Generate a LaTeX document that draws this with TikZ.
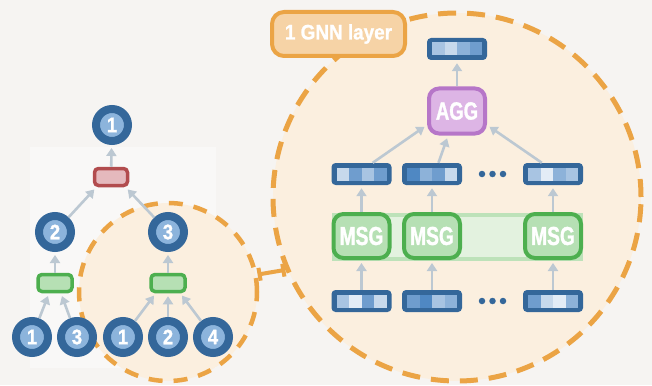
\documentclass[tikz,border=0pt]{standalone}
\usepackage{fontspec}
\usetikzlibrary{arrows.meta}
\newfontfamily\condf[FakeStretch=0.74, BoldFeatures={FakeBold=1.2}]{Liberation Sans}
\newfontfamily\numf[FakeStretch=0.88, BoldFeatures={FakeBold=1.2}]{Liberation Sans}
\newfontfamily\gnnf[FakeStretch=0.9, BoldFeatures={FakeBold=1}]{Liberation Sans}
\definecolor{bg}{HTML}{F6F4F2}
\definecolor{paneback}{HTML}{F9F8F7}
\definecolor{orng}{HTML}{EBA445}
\definecolor{orngfill}{HTML}{FBEFDF}
\definecolor{gnnfill}{HTML}{F6D3A6}
\definecolor{dblue}{HTML}{34679A}
\definecolor{lblue}{HTML}{8CB4DC}
\definecolor{redb}{HTML}{B24C4E}
\definecolor{redf}{HTML}{E5B9BD}
\definecolor{grnb}{HTML}{4DAF4F}
\definecolor{grnf}{HTML}{B6E0B4}
\definecolor{bandf}{HTML}{E3F2DF}
\definecolor{bandb}{HTML}{BDE2B9}
\definecolor{purb}{HTML}{B676C8}
\definecolor{purf}{HTML}{DDB5E5}
\definecolor{arrc}{HTML}{BCC8D2}
\definecolor{vza}{HTML}{E3ECF6}
\definecolor{vzb}{HTML}{C7D9EC}
\definecolor{vzc}{HTML}{A8C4E2}
\definecolor{vzd}{HTML}{8DB2D9}
\definecolor{vze}{HTML}{6F9DCE}
\definecolor{vzf}{HTML}{4F88C3}
\newcommand\vecnode[7]{%
  \node[vecn] (#1) at (#2,#3) {};
  \fill[#4] ({#2-25},{#3-6.5}) rectangle +(12.5,13);
  \fill[#5] ({#2-12.5},{#3-6.5}) rectangle +(12.5,13);
  \fill[#6] ({#2},{#3-6.5}) rectangle +(12.5,13);
  \fill[#7] ({#2+12.5},{#3-6.5}) rectangle +(12.5,13);
}
\begin{document}
\begin{tikzpicture}[x=1pt,y=-1pt,
  numnode/.style={circle, draw=dblue, fill=lblue, line width=8pt, minimum size=32pt, inner sep=0pt,
     text=white, font=\numf\bfseries\fontsize{21}{21}\selectfont},
  redbox/.style={draw=redb, fill=redf, line width=3.5pt, rounded corners=4pt, minimum width=33pt, minimum height=17pt, inner sep=0pt},
  grnbox/.style={draw=grnb, fill=grnf, line width=3.5pt, rounded corners=4pt, minimum width=34pt, minimum height=17pt, inner sep=0pt},
  msgbox/.style={draw=grnb, fill=grnf, line width=4pt, rounded corners=10pt, minimum width=56pt, minimum height=44pt, inner sep=0pt,
     text=white, font=\condf\bfseries\fontsize{26}{26}\selectfont},
  aggbox/.style={draw=purb, fill=purf, line width=4pt, rounded corners=10pt, minimum width=56pt, minimum height=45pt, inner sep=0pt,
     text=white, font=\condf\bfseries\fontsize{25}{25}\selectfont},
  vecn/.style={fill=dblue, rounded corners=4pt, minimum width=60pt, minimum height=22pt, inner sep=0pt},
  arr/.style={draw=arrc, line width=2.6pt, -{Triangle[length=8pt,width=10pt]}, shorten >=3pt},
  zoomc/.style={circle, draw=orng, fill=orngfill, dash pattern=on 14pt off 11pt, inner sep=0pt},
  dotn/.style={circle, fill=dblue, minimum size=6.5pt, inner sep=0pt},
]
\useasboundingbox (0,0) rectangle (652,385);
\fill[bg] (0,0) rectangle (652,385);
\fill[paneback] (30,147) rectangle (216,368);

% zoom circles
\node[zoomc, line width=4.5pt, minimum size=178pt] (small) at (168,292) {};
\node[zoomc, line width=5pt, minimum size=368pt, dash pattern=on 18pt off 11pt] (big) at (457,197) {};
\draw[orng, line width=4pt, {Bar[width=13pt,line width=4pt]}-{Bar[width=13pt,line width=4pt]}] (small.11) -- (big.203);

% left tree
\node[numnode] (t1) at (112,125) {1};
\node[redbox] (red) at (111,177) {};
\node[numnode] (t2) at (55,232) {2};
\node[numnode] (t3) at (168,232) {3};
\node[grnbox] (gl) at (55,283) {};
\node[grnbox] (gr) at (168,283) {};
\node[numnode] (b1) at (32,337) {1};
\node[numnode] (b3) at (77,337) {3};
\node[numnode] (c1) at (123,337) {1};
\node[numnode] (c2) at (168,337) {2};
\node[numnode] (c4) at (213,337) {4};

\draw[arr] (red) -- (t1);
\draw[arr] (t2) -- (red.215);
\draw[arr] (t3) -- (red.325);
\draw[arr] (gl) -- (t2);
\draw[arr] (gr) -- (t3);
\draw[arr] (b1) -- (gl.240);
\draw[arr] (b3) -- (gl.300);
\draw[arr] (c1) -- (gr.220);
\draw[arr] (c2) -- (gr);
\draw[arr] (c4) -- (gr.320);

% GNN layer label
\node[draw=orng, fill=gnnfill, line width=4pt, rounded corners=12pt, minimum width=133pt, minimum height=44pt, inner sep=0pt,
  text=white, font=\gnnf\bfseries\fontsize{21}{21}\selectfont] (gnn) at (338.5,34) {1 GNN layer};

% band behind MSG
\draw[bandb, fill=bandf, line width=4pt] (334,214.5) rectangle (581,258.5);

% vectors
\vecnode{top}{457}{49}{vzc}{vzb}{vzd}{vze}
\vecnode{m1}{361.5}{174}{vzb}{vze}{vzc}{vze}
\vecnode{m2}{432}{174}{vzf}{vzd}{vze}{vzb}
\vecnode{m3}{553}{174}{vzc}{vza}{vzd}{vzc}
\vecnode{v1}{361.5}{301}{vzc}{vza}{vze}{vzb}
\vecnode{v2}{432}{301}{vze}{vzf}{vzc}{vzd}
\vecnode{v3}{553}{301}{vze}{vzb}{vza}{vzd}

\node[aggbox] (agg) at (457,111) {AGG};
\node[msgbox] (s1) at (361.5,236) {MSG};
\node[msgbox] (s2) at (432,236) {MSG};
\node[msgbox] (s3) at (553,236) {MSG};

\node[dotn] (da1) at (482,174) {};
\node[dotn] (da2) at (492.5,174) {};
\node[dotn] (da3) at (503,174) {};
\node[dotn] (db1) at (482,301) {};
\node[dotn] (db2) at (492.5,301) {};
\node[dotn] (db3) at (503,301) {};

\draw[arr] (agg) -- (top);
\draw[arr] (m1.45) -- (agg.205);
\draw[arr] (m2.60) -- (agg.250);
\draw[arr] (m3.135) -- (agg.335);
\draw[arr] (s1) -- (m1);
\draw[arr] (s2) -- (m2);
\draw[arr] (s3) -- (m3);
\draw[arr] (v1) -- (s1);
\draw[arr] (v2) -- (s2);
\draw[arr] (v3) -- (s3);
\end{tikzpicture}
\end{document}
